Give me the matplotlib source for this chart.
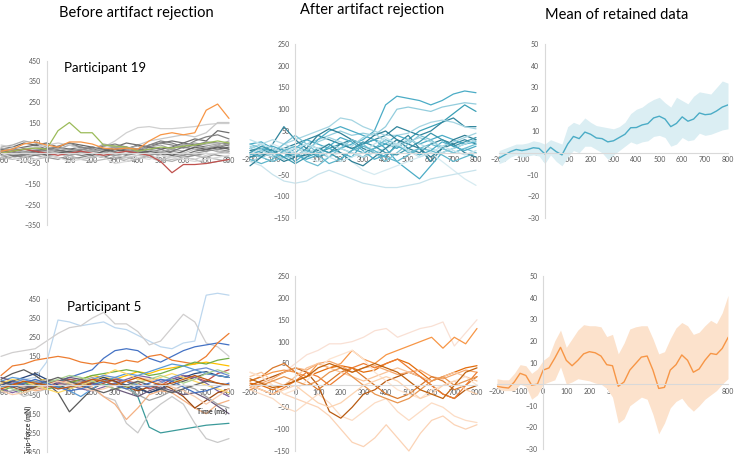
import numpy as np
import matplotlib.pyplot as plt

plt.rcParams["font.family"] = ["Lato", "DejaVu Sans"]

# time axis (ms)
T50 = np.arange(-200, 801, 50)
T25 = np.arange(-200, 801, 25)

# ---- Participant 19, all trials (grip force, mN) ----
P19_RAW_COLORS = ["#d0d0d0", "#c8c8c8", "#6f6f6f", "#808080", "#999999", "#aaaaaa",
                  "#777777", "#bbbbbb", "#8c8c8c", "#666666", "#b0b0b0", "#a0a0a0",
                  "#cfcfcf", "#737373", "#949494", "#c0c0c0", "#858585", "#dadada",
                  "#5e5e5e", "#a8a8a8", "#c0504d", "#9bbb59", "#f79646"]
P19_RAW = [
    [0, 10, 5, 15, 10, 20, 20, 10, 10, 30, 60, 100, 125, 130, 120, 120, 125, 130, 140, 145, 145],
    [-10, 0, 10, 5, -5, 0, 10, 20, 20, 10, 0, 20, 40, 60, 70, 80, 90, 80, 100, 150, 150],
    [10, 20, 30, 40, 50, 30, 20, 30, 20, 10, 30, 50, 40, 30, 50, 60, 50, 70, 60, 110, 100],
    [20, 10, 0, 10, 20, 10, 0, -10, -20, 0, 20, 30, 10, 40, 60, 50, 30, 60, 80, 90, 70],
    [-20, -10, 0, -10, -20, -30, -10, 0, 10, 0, -10, -20, -30, -10, 0, 10, 0, -10, -20, 0, 10],
    [30, 40, 60, 50, 30, 20, 40, 30, 20, 40, 30, 20, 10, 30, 40, 20, 10, 30, 50, 40, 20],
    [0, -10, -20, -10, 0, 10, 20, 10, -10, -20, 0, 10, 20, 0, -10, 10, 30, 20, 10, 30, 40],
    [10, 0, -10, -30, -20, 0, -10, -30, -40, -30, -20, -30, -10, -20, -40, -30, -20, -10, -20, -30, -40],
    [-30, -20, -10, 0, -10, -20, -30, -20, -10, -20, -30, -10, 0, 20, 10, -10, -20, -10, 0, -10, -20],
    [20, 30, 50, 40, 20, 30, 50, 40, 30, 20, 10, 20, 40, 30, 20, 30, 50, 40, 30, 20, 30],
    [-10, 0, 20, 30, 20, 10, 0, 20, 30, 10, -20, -40, -30, -10, -30, -40, -20, -30, -50, -40, -30],
    [5, 15, 25, 20, 10, 0, -10, 0, 10, 20, 30, 20, 0, -10, 0, 20, 40, 50, 40, 30, 50],
    [40, 30, 20, 30, 40, 50, 40, 20, 10, 0, -10, -20, -10, 0, 10, 0, -20, -30, -10, 0, 10],
    [-5, -15, -5, 10, 25, 15, 5, 15, 30, 20, 5, -5, 10, 30, 20, 0, -10, 10, 20, 10, 0],
    [10, 20, 10, 0, -10, 0, 10, 20, 10, 0, -10, 0, 10, 0, -10, -20, -10, 0, 10, 20, 10],
    [-20, -30, -20, 0, 10, 0, -20, -30, -20, -10, 0, 10, 0, -20, -30, -20, 0, 20, 30, 10, 0],
    [15, 5, -5, 5, 15, 35, 50, 30, 20, 35, 45, 30, 20, 40, 50, 40, 25, 40, 55, 50, 45],
    [0, -20, -40, -30, -10, -20, -40, -30, -10, -20, -50, -40, -20, -30, -10, -20, -30, -40, -30, -20, -10],
    [0, 10, 20, 10, -10, 0, 10, 0, -10, 10, 20, 10, 0, 10, 0, -10, 10, 30, 20, 30, 20],
    [25, 15, 5, -5, 5, 25, 15, 5, 15, 45, 35, 25, 35, 15, 5, 25, 45, 35, 25, 40, 60],
    [0, 10, 20, 10, 0, -10, 0, 10, 0, -10, 0, 10, 0, -10, -40, -95, -55, -55, -50, -40, -30],
    [0, 10, 20, 25, 20, 110, 150, 100, 100, 40, 35, 30, 10, 20, 30, 25, 35, 40, 50, 60, 50],
    [10, 20, 45, 55, 40, 30, 55, 55, 45, 25, 20, 25, 20, 60, 90, 100, 90, 100, 210, 240, 170],
]

# ---- Participant 19, retained trials ----
P19_KEPT_COLORS = ["#4bacc6", "#93cddd", "#3a9fb5", "#31859c", "#a5d5e2", "#31859c",
                   "#4bacc6", "#d6ebf1", "#c8e3ec", "#4bacc6", "#2f7f95", "#6cbdd1",
                   "#b7dee8", "#2f7f95", "#7ac3d5", "#4bacc6", "#a0d3e0", "#3b97ad",
                   "#c3e4ed", "#5fb6cb"]
P19_KEPT = [
    [0, 10, 5, -10, 0, 20, 10, 0, 10, 20, 30, 50, 110, 130, 125, 120, 110, 120, 135, 142, 138],
    [10, 0, -10, 0, 10, 20, 30, 40, 50, 40, 45, 40, 60, 100, 105, 100, 95, 105, 110, 115, 112],
    [-10, -5, 0, 10, 0, -10, 0, 10, 20, 10, 0, 10, 20, 10, 30, 50, 60, 70, 90, 110, 95],
    [0, -10, 0, 10, 20, 30, 40, 30, 20, 10, 20, 30, 40, 60, 50, 40, 50, 70, 80, 60, 60],
    [-20, -10, 0, 20, 30, 40, 50, 60, 80, 75, 60, 50, 40, 40, 45, 60, 70, 75, 70, 60, 55],
    [-10, 0, 20, 60, 30, 10, -10, 0, 20, 30, 10, 0, -10, 20, 40, 10, -20, 10, 20, 30, 20],
    [10, 20, 0, -10, 10, 30, 20, 10, 0, -10, 20, 30, 10, -20, -40, -60, -30, 0, 10, 20, 30],
    [0, 10, 20, 10, 0, -10, -20, -10, 0, -20, -40, -50, -40, -30, -20, -10, 0, -20, -40, -60, -75],
    [-20, -30, -50, -65, -70, -65, -50, -40, -50, -60, -70, -75, -80, -80, -75, -70, -60, -55, -50, -45, -40],
    [20, 25, 10, 0, -20, 0, 30, 50, 60, 50, 40, 30, 20, 40, 30, 20, 30, 40, 30, 20, 25],
    [5, 10, -5, -20, -10, 10, 40, 55, 45, 30, 20, 40, 50, 30, 10, 0, 20, 30, 20, 0, -10],
    [0, -10, -20, -10, 0, -20, -30, -10, 10, 0, -10, 10, 30, 20, 0, 10, 20, 10, 0, 10, 20],
    [10, 20, 30, 20, 10, 0, 10, 20, 10, 0, -10, 0, 10, 20, 30, 20, 10, 0, 10, 20, 30],
    [-30, -10, 10, 0, -10, -5, 5, 20, 0, -20, -30, -10, 10, 30, 20, 10, -10, 10, 30, 40, 30],
    [20, 10, 0, 20, 40, 20, 0, -10, 10, 30, 20, 0, -20, 0, 20, 40, 30, 10, 0, 10, 0],
    [-5, 5, 15, 5, -5, -15, -5, 15, 35, 25, 5, -15, -5, 15, 5, -5, 5, 25, 15, 5, 15],
    [15, 5, -5, -15, -5, 5, 25, 35, 25, 15, 35, 45, 25, 15, 25, 35, 25, 15, 25, 35, 45],
    [0, 15, 5, -10, -25, -10, 10, 0, -15, 5, 25, 15, 0, -5, 10, 25, 45, 30, 15, 25, 35],
    [30, 20, 10, 0, 10, 20, 10, -10, -20, -10, 0, 20, 35, 20, 5, -10, 0, 15, 5, -5, 5],
    [-15, -25, -15, 5, 15, 5, -5, -25, -15, 5, 15, 5, -10, -20, -5, 10, 5, -5, -20, -10, 0],
]

# ---- Participant 19, mean and band of retained trials ----
P19_MEAN = [-2.5, -1, 0.5, 1.5, 1, 1.5, 2.3, 2, -0.5, 2.5, 0.5, -1, 4, 7.5, 6.5, 9.5, 8.5,
            6.8, 6.5, 5, 5.5, 7, 8.5, 11.5, 11.6, 12.8, 13.4, 16, 16.8, 15.5, 12, 13.5,
            16.5, 14.5, 15.5, 18.3, 17.5, 17.8, 19.2, 21, 22]
P19_UPPER = [1, 2, 3, 4, 4, 4.5, 5.5, 5, 4, 6, 5, 4, 12, 14, 13, 16, 14, 12.5, 12, 11.5, 11,
             12, 14, 18, 20, 21, 23, 24.5, 25.5, 23, 21, 25.5, 24, 22.5, 26, 28, 27.5, 27,
             30, 33, 32]
P19_LOWER = [-5, -4, -2, -1, -2, -1.5, -1, -1.5, -5, -1, -4, -6, -2, 1, 0, 3, 3, 1.5, 0, -3,
             -1, 1, 3, 5, 4, 5, 5.5, 7.5, 8, 7, 3, 4, 7, 5.5, 6, 9, 8, 8.5, 9.5, 10.5, 11]

# ---- Participant 5, all trials ----
P5_RAW_COLORS = ["#bdd7ee", "#d0cece", "#4472c4", "#ed7d31", "#3b9a9a", "#c9c9c9",
                 "#f4b183", "#595959", "#ffc000", "#c0504d", "#264478", "#70ad47",
                 "#8064a2", "#5b9bd5", "#9e480e", "#a5a5a5", "#6b5b7b", "#ffd966",
                 "#a9d18e", "#698ed0", "#f8cbad", "#636363", "#4472c4", "#c55a11"]
P5_RAW = [
    [20, 10, 30, 40, 120, 340, 330, 310, 320, 330, 300, 290, 260, 230, 200, 190, 220, 230, 470, 480, 470],
    [150, 170, 180, 190, 230, 270, 300, 310, 350, 380, 320, 320, 280, 210, 230, 300, 370, 330, 220, 200, 150],
    [0, 20, 10, -10, 0, 20, 40, 60, 80, 140, 180, 190, 180, 140, 120, 150, 180, 200, 210, 220, 210],
    [50, 100, 110, 130, 140, 150, 140, 120, 110, 120, 110, 130, 120, 150, 160, 130, 120, 110, 150, 220, 270],
    [10, 20, 0, -10, 10, 20, 30, 20, 10, 0, 10, 0, -60, -220, -250, -240, -230, -220, -210, -205, -200],
    [0, -20, -60, -40, -20, 0, 20, 0, -20, -60, -80, -200, -250, -150, -100, -60, -100, -200, -280, -300, -280],
    [10, 0, -10, -30, -20, 0, 20, 10, -10, -60, -100, -180, -120, -50, -30, -40, -80, -120, -150, -100, -80],
    [30, 60, 80, 50, 10, -40, -140, -80, -20, 10, 30, 20, -10, -40, -20, 0, 20, 40, 60, 50, 40],
    [-10, 0, 10, 20, 30, 20, 10, 30, 50, 40, 30, 50, 70, 60, 80, 90, 100, 110, 120, 110, 100],
    [20, 10, 0, -20, -10, 10, 30, 20, 0, 10, 30, 20, 10, -20, 0, 30, 50, 40, 20, 60, 80],
    [0, 20, 40, 60, 30, 0, -20, 0, 20, 40, 20, 0, -20, -40, -20, 20, 40, 60, 70, 50, 40],
    [-30, -10, 10, 0, -20, -10, 10, 30, 50, 60, 70, 80, 70, 50, 60, 80, 100, 120, 110, 130, 140],
    [-20, -40, -20, 0, 20, 10, 0, -20, -30, -10, 10, 30, 50, 40, 20, 30, 50, 40, 10, -30, -60],
    [20, 40, 30, 10, 0, -10, -30, -60, -20, 20, 40, 60, 50, 70, 90, 110, 100, 80, 60, 50, 40],
    [0, -10, -30, -10, 10, 20, 0, -10, 10, 30, 20, -10, -30, -10, 10, -20, -60, -120, -80, -40, -20],
    [-40, -30, -10, 10, 30, 20, 0, 20, 40, 20, 0, -20, -50, -80, -60, -30, 0, -20, -60, -100, -120],
    [40, 20, 0, -20, 0, 20, 40, 30, 10, 0, -20, -40, -60, -30, -10, -30, -50, -40, -70, -110, -150],
    [10, 30, 20, 0, -20, -40, -20, 0, 20, 50, 80, 60, 30, 20, 40, 60, 40, 20, 0, -20, -40],
    [0, -20, -40, -20, 10, 30, 50, 40, 20, 0, -20, -10, 10, 30, 50, 30, 10, 30, 60, 80, 60],
    [-10, 10, 30, 20, 0, -20, -10, 10, 30, 50, 40, 20, 0, -10, 10, 40, 60, 80, 90, 70, 50],
    [-30, -50, -40, -20, 0, 20, 10, -10, -30, -20, 0, 20, 40, 30, 10, -10, -30, -60, -100, -60, -20],
    [20, 0, -20, 0, 20, 40, 20, 0, -20, -40, -20, 0, 20, 0, -20, -40, -20, 0, 20, 10, 0],
    [0, -10, 10, 30, 10, -10, -30, -20, 0, 20, 0, -20, -10, 10, 30, 20, -10, -40, -30, -10, 10],
    [-20, 0, 20, 10, 0, -20, -10, 10, 30, 20, 0, 20, 40, 20, 0, 10, 30, 50, 30, 10, 0],
]

# ---- Participant 5, retained trials ----
P5_KEPT_COLORS = ["#f9e0d4", "#f79646", "#fbd3b6", "#fcdcc4", "#b85a10", "#e46c0a",
                  "#f5a66a", "#d9782b", "#f9c49a", "#ed7d31", "#fde4d0", "#e9954e",
                  "#fcd3b0", "#c0620e"]
P5_KEPT = [
    [0, 10, 20, 30, 50, 70, 80, 95, 95, 100, 110, 125, 130, 110, 120, 130, 135, 145, 90, 120, 150],
    [10, 20, 30, 35, 30, 20, 50, 40, 50, 80, 60, 50, 70, 80, 90, 100, 110, 85, 110, 95, 130],
    [30, 20, 0, -20, -30, -40, -50, -70, -100, -130, -140, -120, -90, -120, -150, -110, -80, -70, -90, -100, -90],
    [-10, -20, -30, -50, -60, -40, -20, -40, -70, -80, -60, -40, -30, -60, -80, -60, -40, -50, -70, -80, -85],
    [0, 10, 20, 30, 40, 30, 0, -60, -75, -50, -20, -10, 10, 20, 30, 20, 0, -20, -30, -10, 0],
    [5, 0, -10, 0, 10, 20, 30, 40, 45, 40, 30, 35, 50, 60, 50, 30, 10, 20, 30, 40, 45],
    [-5, 5, 15, 30, 40, 35, 50, 55, 45, 30, 40, 45, 35, 25, 30, 35, 20, 15, 25, 35, 30],
    [10, 20, 40, 50, 30, 10, -10, 10, 30, 40, 20, 0, -20, -30, -20, 0, 20, 10, -10, 0, 20],
    [20, 30, 10, 0, 20, 40, 50, 40, 30, 20, 10, 20, 30, 40, 30, 20, 10, 20, 30, 20, 10],
    [0, -10, -20, -5, 10, 30, 20, 0, 20, 40, 50, 40, 50, 60, 40, 20, 0, -20, -30, 0, 30],
    [30, 20, 0, -20, -10, 10, 40, 60, 70, 80, 60, 30, 10, -10, -20, -30, -10, 0, 10, 20, 0],
    [-10, 0, 10, 20, 10, 0, 10, 30, 40, 20, 0, -20, -30, -40, -30, -10, 10, 20, 0, 10, 20],
    [0, -10, -20, -10, 0, -20, -40, -50, -40, -20, 0, 10, 20, 10, -10, -30, -20, 0, 10, -10, -20],
    [15, 5, -5, 0, 10, 20, 40, 50, 40, 30, 40, 50, 40, 30, 10, -10, -20, -30, 0, 30, 40],
]

# ---- Participant 5, mean and band of retained trials ----
P5_MEAN = [-1, -1.5, -1.8, 1, 5, 4, -0.5, 0, 6.5, 7.5, 12, 17, 11, 8.5, 11, 14, 15, 14.5,
           13, 9, 8.5, -1, 1, 6.5, 9.5, 12.5, 13, 6.5, -2, -1.5, 6.5, 9, 13.5, 11, 5.5, 7,
           11, 14.2, 13.7, 16.5, 21.5]
P5_UPPER = [2.5, 2, 2, 5, 9, 8.5, 5, 7, 11, 13, 20, 25, 17, 21, 25, 27.5, 27, 27, 26.5, 22,
            23, 14, 19, 25.5, 26.5, 27, 27, 21, 14, 15, 21, 26, 28.5, 27, 23, 24, 27, 29.5,
            28, 33, 41]
P5_LOWER = [-2, -3, -3, -3, 0, -1, -7, -5, 0, 1, 2, 8, 0, 1, 2.5, 2, 1.5, 0.5, 0, -2, -6,
            -18, -16, -10, -8, -6, -7, -14, -23, -18, -11, -8, -6.5, -10, -12.5, -10, -7,
            -5, -3, 0, 2.5]

W, H = 734, 454
fig = plt.figure(figsize=(W / 100, H / 100), dpi=100)


def box(left, top, right, bottom):
    return [left / W, 1 - bottom / H, (right - left) / W, (bottom - top) / H]


def style(ax, ylo, yhi, ystep, ystart):
    ax.set_xlim(-200, 800)
    ax.set_ylim(ylo, yhi)
    ax.patch.set_visible(False)
    ax.set_axisbelow(True)
    for s in ("top", "right"):
        ax.spines[s].set_visible(False)
    for s in ("left", "bottom"):
        ax.spines[s].set_position(("data", 0))
        ax.spines[s].set_color("#d9d9d9")
        ax.spines[s].set_linewidth(0.8)
    ax.set_xticks(np.arange(-200, 801, 100))
    ax.set_yticks(np.arange(ystart, yhi + 1, ystep))
    ax.tick_params(labelsize=5, colors="#595959", length=0, pad=2.5)
    ax.tick_params(axis="y", pad=4)


ax_tl = fig.add_axes(box(1, 61, 229, 225))
ax_tm = fig.add_axes(box(250, 44, 476, 218))
ax_tr = fig.add_axes(box(499, 44, 728, 218))
ax_bl = fig.add_axes(box(1, 299, 229, 452))
ax_bm = fig.add_axes(box(250, 276, 477, 451))
ax_br = fig.add_axes(box(497, 276, 728, 449))

style(ax_tl, -350, 450, 100, -350)
style(ax_bl, -350, 450, 100, -350)
style(ax_tm, -150, 250, 50, -150)
style(ax_bm, -150, 250, 50, -150)
style(ax_tr, -30, 50, 10, -30)
style(ax_br, -30, 50, 10, -30)

for ax, rows, cols in [(ax_tl, P19_RAW, P19_RAW_COLORS),
                       (ax_tm, P19_KEPT, P19_KEPT_COLORS),
                       (ax_bl, P5_RAW, P5_RAW_COLORS),
                       (ax_bm, P5_KEPT, P5_KEPT_COLORS)]:
    for vals, c in zip(rows, cols):
        ax.plot(T50, vals, color=c, lw=0.9, solid_capstyle="round", clip_on=False)

ax_tr.fill_between(T25, P19_LOWER, P19_UPPER, color="#dbeef3", lw=0)
ax_tr.plot(T25, P19_MEAN, color="#4bacc6", lw=1.0)
ax_br.fill_between(T25, P5_LOWER, P5_UPPER, color="#fce2cc", lw=0)
ax_br.plot(T25, P5_MEAN, color="#f79646", lw=1.0)

# headings and labels
fig.text(136 / W, 1 - 13 / H, "Before artifact rejection", ha="center", va="center", fontsize=10.5)
fig.text(372 / W, 1 - 10 / H, "After artifact rejection", ha="center", va="center", fontsize=10.5)
fig.text(617 / W, 1 - 15 / H, "Mean of retained data", ha="center", va="center", fontsize=10.5)
fig.text(105 / W, 1 - 68 / H, "Participant 19", ha="center", va="center", fontsize=9.5)
fig.text(104 / W, 1 - 307 / H, "Participant 5", ha="center", va="center", fontsize=9.5)
fig.text(212 / W, 1 - 411 / H, "Time (ms)", ha="center", va="center",
         fontsize=5, fontweight="bold", color="#404040")
fig.text(28 / W, 1 - 430 / H, "Grip-force (mN)", ha="center", va="center", rotation=90,
         fontsize=5, fontweight="bold", color="#404040")

fig.savefig("out.png", dpi=100)
